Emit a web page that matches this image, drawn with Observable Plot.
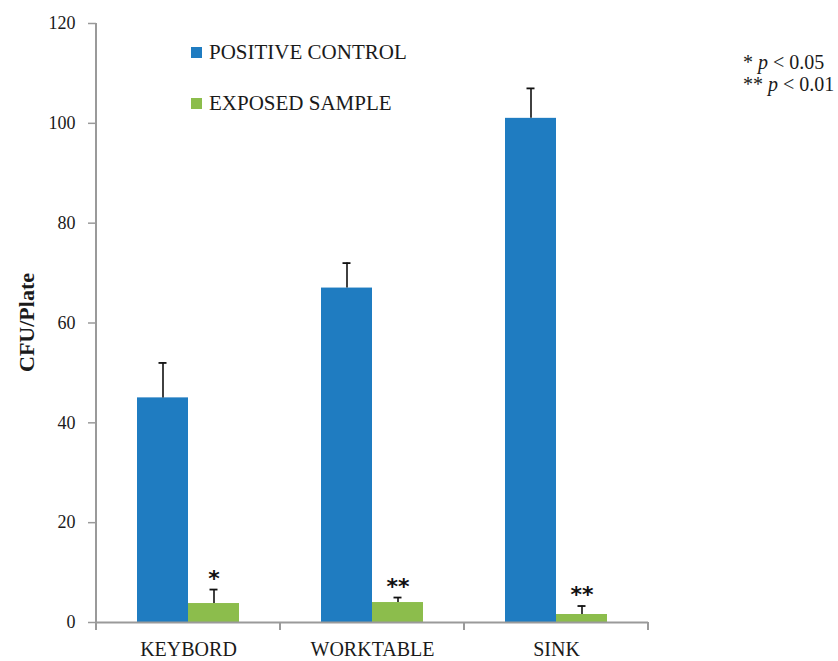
<!DOCTYPE html>
<html>
<head>
<meta charset="utf-8">
<script src="https://cdn.jsdelivr.net/npm/d3@7"></script>
<script src="https://cdn.jsdelivr.net/npm/@observablehq/plot@0.6"></script>
<style>
  html, body { margin: 0; padding: 0; background: #ffffff; }
  #chart { width: 838px; height: 661px; }
</style>
</head>
<body>
<div id="chart"></div>
<script>
// ---- data ----
const categories = ["KEYBORD", "WORKTABLE", "SINK"];
const series = ["POSITIVE CONTROL", "EXPOSED SAMPLE"];
const positiveControl = [45, 67, 101];
const positiveControlError = [7, 5, 6];
const exposedSample = [3.8, 4, 1.6];
const exposedSampleError = [2.8, 1, 1.7];
const significance = ["*", "**", "**"];
const yTicks = [0, 20, 40, 60, 80, 100, 120];
const seriesColors = ["#1f7cc1", "#8cbd4c"];
const yLabel = "CFU/Plate";
const pNotes = [["*", "0.05"], ["**", "0.01"]];

const rows = categories.flatMap((c, i) => [
  {category: c, series: series[0], value: positiveControl[i], high: positiveControl[i] + positiveControlError[i], sig: null},
  {category: c, series: series[1], value: exposedSample[i], high: exposedSample[i] + exposedSampleError[i], sig: significance[i]}
]);

const axisGray = "#9a9a9a";
const serif = '"Liberation Serif", "Times New Roman", serif';

const chart = Plot.plot({
  width: 838,
  height: 661,
  marginLeft: 96,
  marginRight: 190,
  marginTop: 23,
  marginBottom: 39,
  style: {fontFamily: serif, fontSize: "18px", color: "#1a1a1a", background: "#ffffff"},
  fx: {domain: categories, padding: 0, label: null},
  x: {domain: series, paddingInner: 0, paddingOuter: 0.77, axis: null},
  y: {domain: [0, 120], label: null},
  color: {domain: series, range: seriesColors},
  marks: [
    Plot.barY(rows, {fx: "category", x: "series", y: "value", fill: "series"}),
    Plot.ruleX(rows, {fx: "category", x: "series", y1: "value", y2: "high", stroke: "#111", strokeWidth: 1.6}),
    Plot.tickY(rows, {fx: "category", x: "series", y: "high", stroke: "#111", strokeWidth: 1.8, insetLeft: 21.5, insetRight: 21.5}),
    Plot.text(rows.filter(d => d.sig), {fx: "category", x: "series", y: "high", text: "sig",
      fontFamily: '"DejaVu Sans", sans-serif', fontSize: 22, fontWeight: "bold", lineAnchor: "bottom", dy: -4, fill: "#111"}),
    Plot.ruleY([0], {stroke: axisGray, strokeWidth: 2}),
    Plot.axisY({ticks: yTicks, tickSize: 8, tickPadding: 13, stroke: axisGray, strokeWidth: 1.5,
      fill: "#1a1a1a", fontSize: 18, label: null}),
    Plot.axisFx({anchor: "bottom", tickSize: 0, tickPadding: 19, fontSize: 20, fill: "#1a1a1a", label: null})
  ]
});

document.getElementById("chart").appendChild(chart);

// ---- axis decorations derived from the library's scales ----
const svg = d3.select(chart);
const fxs = chart.scale("fx");
const ys = chart.scale("y");
const yPos = v => ys.apply ? ys.apply(v)
  : ys.range[0] + (v - ys.domain[0]) / (ys.domain[1] - ys.domain[0]) * (ys.range[1] - ys.range[0]);
const step = fxs.step ?? (fxs.range[1] - fxs.range[0]) / fxs.domain.length;
const bandStart = (c, i) => fxs.apply ? fxs.apply(c) : fxs.range[0] + i * step;
const starts = categories.map(bandStart);
const edges = [...starts, starts[starts.length - 1] + (fxs.bandwidth ?? step)];
const y0 = yPos(0), yTop = yPos(yTicks[yTicks.length - 1]);

const deco = svg.append("g").attr("stroke", axisGray);
deco.append("line").attr("x1", edges[0]).attr("x2", edges[0]).attr("y1", yTop).attr("y2", y0 + 1)
  .attr("stroke-width", 2);
edges.forEach(x => {
  deco.append("line").attr("x1", x).attr("x2", x).attr("y1", y0).attr("y2", y0 + 8).attr("stroke-width", 2);
});

// y axis title
svg.append("text")
  .attr("transform", `translate(26,${(y0 + yTop) / 2}) rotate(-90)`)
  .attr("text-anchor", "middle").attr("dy", "0.35em")
  .attr("font-family", serif).attr("font-size", 22).attr("font-weight", "bold").attr("fill", "#1a1a1a")
  .text(yLabel);

// legend
const leg = svg.append("g").attr("font-family", serif).attr("font-size", 21).attr("fill", "#1a1a1a")
  .attr("text-anchor", "start");
series.forEach((s, i) => {
  const base = 59 + i * 51;
  leg.append("rect").attr("x", 191).attr("y", base - 12).attr("width", 11).attr("height", 11).attr("fill", seriesColors[i]);
  leg.append("text").attr("x", 209).attr("y", base).attr("text-anchor", "start").text(s);
});

// significance notes
const notes = svg.append("g").attr("font-family", serif).attr("font-size", 20).attr("fill", "#1a1a1a")
  .attr("text-anchor", "start");
pNotes.forEach(([stars, p], i) => {
  const t = notes.append("text").attr("x", 743).attr("y", 69 + i * 22).attr("text-anchor", "start");
  t.append("tspan").text(stars + " ");
  t.append("tspan").attr("font-style", "italic").text("p");
  t.append("tspan").text(" < " + p);
});
</script>
</body>
</html>
